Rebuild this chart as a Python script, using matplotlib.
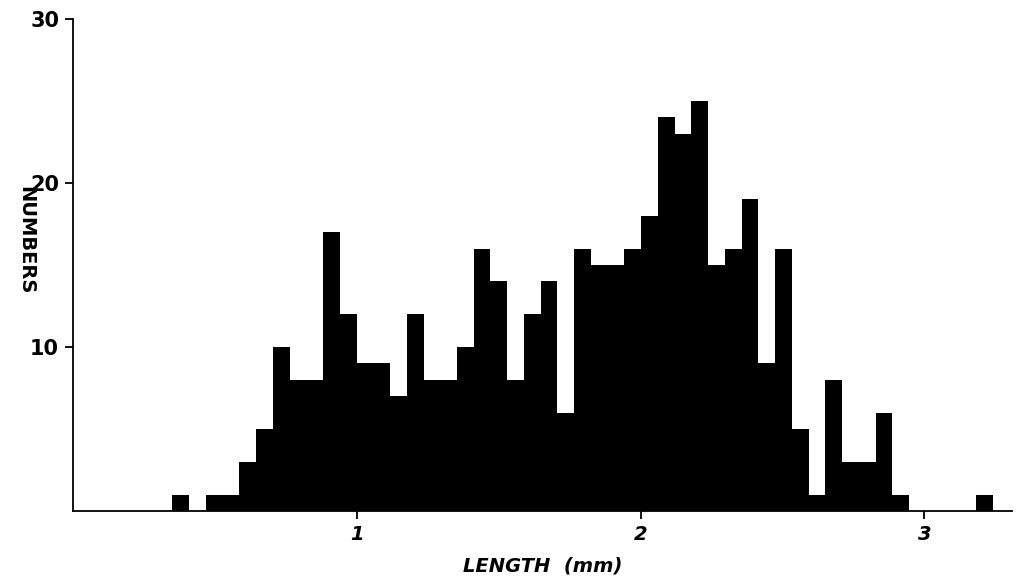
import numpy as np
import matplotlib
matplotlib.use("Agg")
import matplotlib.pyplot as plt

# histogram of lengths (mm)
bin_start = 0.35
bin_width = 0.059
counts = [1, 0, 1, 1, 3, 5, 10, 8, 8, 17, 12, 9, 9,
          7, 12, 8, 8, 10, 16, 14, 8, 12, 14, 6, 16, 15, 15,
          16, 18, 24, 23, 25, 15, 16, 19, 9, 16, 5, 1, 8, 3, 3, 6, 1,
          0, 0, 0, 0, 1]

x_ticks = [1, 2, 3]
y_ticks = [10, 20, 30]

left_edges = bin_start + bin_width * np.arange(len(counts))

fig = plt.figure(figsize=(10.19, 5.83), dpi=100)
ax = fig.add_axes([0.0716, 0.1235, 0.922, 0.844])

ax.bar(left_edges, counts, width=bin_width, align='edge',
       color='black', linewidth=0)

ax.set_xlim(0, 3.31)
ax.set_ylim(0, 30)
ax.spines['top'].set_visible(False)
ax.spines['right'].set_visible(False)
ax.spines['left'].set_linewidth(1.3)
ax.spines['bottom'].set_linewidth(1.3)

ax.set_xticks(x_ticks)
ax.set_xticklabels([str(t) for t in x_ticks], fontsize=14,
                   fontweight='bold', fontstyle='italic')
ax.set_yticks(y_ticks)
ax.set_yticklabels([str(t) for t in y_ticks], fontsize=15, fontweight='bold')
ax.tick_params(axis='both', length=6, width=1.3, direction='out', pad=4)

ax.set_xlabel('LENGTH  (mm)', fontsize=14, fontweight='bold',
              fontstyle='italic', labelpad=9)
ax.set_ylabel('NUMBERS', fontsize=14, fontweight='bold', rotation=270)
ax.yaxis.set_label_coords(-0.06, 0.55)

fig.savefig('out.png', dpi=100)
